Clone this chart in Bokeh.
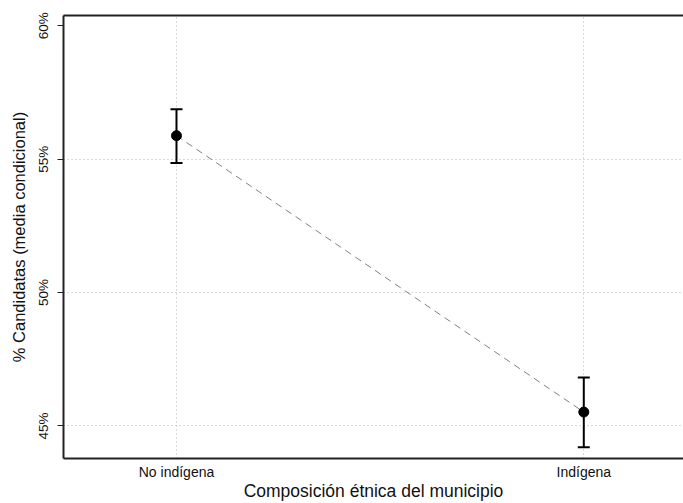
from bokeh.plotting import figure
from bokeh.models import (ColumnDataSource, Whisker, TeeHead, FixedTicker, LinearAxis,
                          Range1d, NumeralTickFormatter)
from bokeh.embed import file_html
from bokeh.resources import INLINE

categories = ["No indígena", "Indígena"]
positions = [1, 2]
means = [55.88, 45.52]
lower = [54.86, 44.20]
upper = [56.87, 46.82]
y_ticks = [45, 50, 55, 60]
grid_ticks = [45, 50, 55]

FONT = "Liberation Sans"

src = ColumnDataSource(dict(x=positions, y=means, lo=lower, hi=upper, cat=categories))

p = figure(width=683, height=503, output_backend="svg", toolbar_location=None,
           x_range=Range1d(0.7226, 2.2448), y_range=Range1d(43.78, 60.385),
           min_border_left=63, min_border_top=15, min_border_right=0, min_border_bottom=10)
p.outline_line_color = None
p.background_fill_color = "white"
p.border_fill_color = "white"

# grids
p.xgrid.ticker = FixedTicker(ticks=positions)
p.ygrid.ticker = FixedTicker(ticks=grid_ticks)
for g in (p.xgrid, p.ygrid):
    g.grid_line_color = "#b5b5b5"
    g.grid_line_dash = "1 3"
    g.grid_line_width = 1

# x axis
xa = p.xaxis[0]
xa.ticker = FixedTicker(ticks=positions)
xa.major_label_overrides = {1: categories[0], 2: categories[1]}
xa.major_tick_out = 0
xa.major_tick_in = 0
xa.minor_tick_out = 0
xa.minor_tick_in = 0
xa.axis_line_width = 2
xa.axis_line_color = "#222222"
xa.major_label_text_font = FONT
xa.major_label_text_font_size = "14px"
xa.major_label_text_color = "#111111"
xa.major_label_standoff = 5
xa.axis_label = "Composición étnica del municipio"
xa.axis_label_text_font = FONT
xa.axis_label_text_font_style = "normal"
xa.axis_label_text_font_size = "17.5px"
xa.axis_label_text_color = "#111111"
xa.axis_label_standoff = -2

# y axis
ya = p.yaxis[0]
ya.ticker = FixedTicker(ticks=y_ticks)
ya.formatter = NumeralTickFormatter(format="0")
ya.major_label_overrides = {t: f"{t}%" for t in y_ticks}
ya.major_label_orientation = "vertical"
ya.major_tick_out = 6
ya.major_tick_in = 0
ya.minor_tick_out = 0
ya.minor_tick_in = 0
ya.axis_line_width = 2
ya.axis_line_color = "#222222"
ya.major_tick_line_color = "#222222"
ya.major_label_text_font = FONT
ya.major_label_text_font_size = "13.5px"
ya.major_label_text_color = "#111111"
ya.major_label_standoff = 6
ya.axis_label = "% Candidatas (media condicional)"
ya.axis_label_text_font = FONT
ya.axis_label_text_font_style = "normal"
ya.axis_label_text_font_size = "16.5px"
ya.axis_label_text_color = "#111111"
ya.axis_label_standoff = 6

# top border line
top = LinearAxis(ticker=FixedTicker(ticks=[]), axis_line_width=2, axis_line_color="#222222",
                 major_tick_out=0, major_tick_in=0, minor_tick_out=0, minor_tick_in=0,
                 major_label_text_font_size="0px")
p.add_layout(top, "above")

# connecting dashed line
p.line("x", "y", source=src, line_color="#808080", line_width=1, line_dash="7 5")

# error bars
w = Whisker(base="x", upper="hi", lower="lo", source=src, line_color="black", line_width=2,
            upper_head=TeeHead(size=12, line_width=2, line_color="black"),
            lower_head=TeeHead(size=12, line_width=2, line_color="black"))
p.add_layout(w)

p.scatter("x", "y", source=src, size=10, fill_color="black", line_color="black")

open("out.html", "w").write(file_html(p, INLINE))
